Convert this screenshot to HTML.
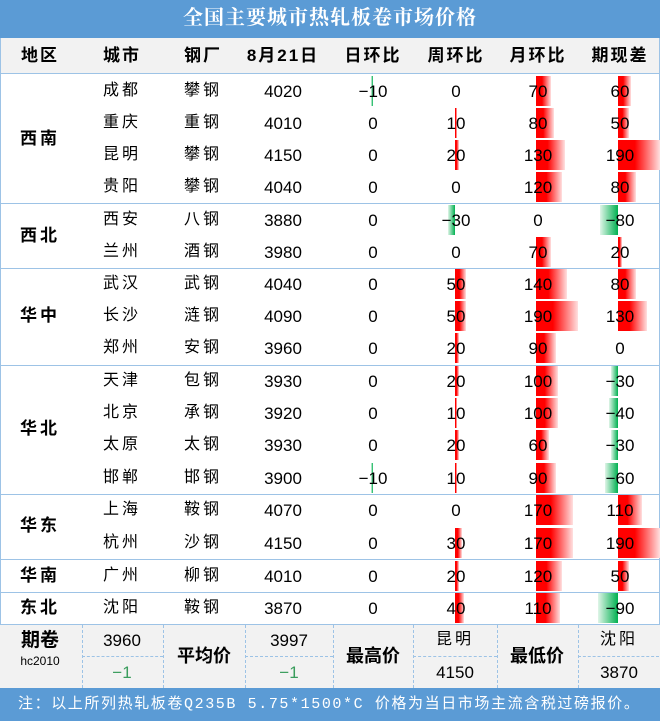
<!DOCTYPE html>
<html><head><meta charset="utf-8"><style>
body{margin:0;width:660px;height:721px;background:#fff;position:relative;overflow:hidden;font-family:"Liberation Sans","Noto Sans CJK SC",sans-serif;}
div{position:absolute;box-sizing:border-box}
.t{text-align:center;white-space:nowrap;line-height:1}
</style></head><body>
<div style="left:0;top:0;width:660px;height:38px;background:#5b9bd5"></div>
<div class="t" style="left:0;top:8px;width:660px;color:#fff;font-size:20px;font-weight:bold;letter-spacing:1px;font-family:'Liberation Serif','Noto Serif CJK SC',serif">全国主要城市热轧板卷市场价格</div>
<div style="left:0;top:38px;width:660px;height:36px;background:#f2f2f2;border-bottom:1px solid #9dc3e6"></div>
<div style="left:0;top:38px;width:1px;height:650px;background:#9dc3e6"></div>
<div style="left:659px;top:38px;width:1px;height:650px;background:#9dc3e6"></div>
<div style="left:0;top:624px;width:660px;height:64px;background:#f2f2f2;border-top:1px solid #9dc3e6"></div>
<div style="left:0;top:688px;width:660px;height:33px;background:#5b9bd5"></div>
<div class="t" style="left:18px;top:697px;color:#fff;font-size:15px;letter-spacing:1.6px;text-align:left;font-family:'Liberation Mono','Noto Sans CJK SC',monospace">注：以上所列热轧板卷Q235B 5.75*1500*C 价格为当日市场主流含税过磅报价。</div>
<div id="root"></div>
<script>
var R=document.getElementById('root'),h='';
function tx(x,y,s,st){h+='<div class="t" style="left:'+(x-60)+'px;top:'+(y-9)+'px;width:120px;font-size:16px;'+(st||'')+'">'+s+'</div>';}
var hdr=['地区','城市','钢厂','8月21日','日环比','周环比','月环比','期现差'],cx=[40,122,203,283,373,456,538,620];
hdr.forEach(function(s,i){tx(cx[i],56,s,'font-weight:bold;font-size:17px;letter-spacing:2px');});
var rows=[['成都','攀钢',4020,-10,0,70,60],['重庆','重钢',4010,0,10,80,50],['昆明','攀钢',4150,0,20,130,190],['贵阳','攀钢',4040,0,0,120,80],
['西安','八钢',3880,0,-30,0,-80],['兰州','酒钢',3980,0,0,70,20],
['武汉','武钢',4040,0,50,140,80],['长沙','涟钢',4090,0,50,190,130],['郑州','安钢',3960,0,20,90,0],
['天津','包钢',3930,0,20,100,-30],['北京','承钢',3920,0,10,100,-40],['太原','太钢',3930,0,20,60,-30],['邯郸','邯钢',3900,-10,10,90,-60],
['上海','鞍钢',4070,0,0,170,110],['杭州','沙钢',4150,0,30,170,190],['广州','柳钢',4010,0,20,120,50],['沈阳','鞍钢',3870,0,40,110,-90]];
var ys=[91,123,155,187,220,252,284,316,348,381,413,445,478,510,543,576,608];
var ax=[373,455,536,618];
rows.forEach(function(r,i){var y=ys[i];
 for(var k=0;k<4;k++){var v=r[3+k];if(v){var w=Math.max(2,Math.abs(v)*0.22),x0=v>0?ax[k]:ax[k]-w;
  var g=v>0?'linear-gradient(90deg,#ff0000,#ff0000 40%,#ffe0e0)':'linear-gradient(90deg,#e0f5e8,#00b050)';
  h+='<div style="left:'+x0+'px;top:'+(y-15)+'px;width:'+w+'px;height:30px;background:'+g+'"></div>';}}
 tx(cx[1],y+1,r[0],'letter-spacing:3px');tx(cx[2],y+1,r[1],'letter-spacing:3px');tx(cx[3],y+1,r[2],'font-size:17px');
 for(var k=0;k<4;k++){var v=r[3+k];tx(cx[4+k],y+1,v<0?'−'+(-v):v,'font-size:17px');}
});
[['西南',139],['西北',236],['华中',316],['华北',429],['华东',526],['华南',576],['东北',608]].forEach(function(a){tx(40,a[1],a[0],'font-weight:bold;font-size:17px;letter-spacing:3px');});
[203,268,365,494,559,592].forEach(function(y){h+='<div style="left:0;top:'+y+'px;width:660px;height:1px;background:#9dc3e6"></div>';});
[82,163,245,333,413,497,578].forEach(function(x){h+='<div style="left:'+x+'px;top:625px;height:63px;border-left:1px dashed #9dc3e6"></div>';});
[[82,163],[245,333],[413,497],[578,659]].forEach(function(a){h+='<div style="left:'+a[0]+'px;top:656px;width:'+(a[1]-a[0])+'px;border-top:1px dashed #9dc3e6"></div>';});
tx(40,640,'期卷','font-weight:bold;font-size:19px');tx(40,664,'hc2010','font-size:12px');
tx(122,641,'3960','font-size:17px');tx(122,673,'−1','color:#3a9d5d;font-size:17px');
tx(204,656,'平均价','font-weight:bold;font-size:18px');
tx(289,641,'3997','font-size:17px');tx(289,673,'−1','color:#3a9d5d;font-size:17px');
tx(373,656,'最高价','font-weight:bold;font-size:18px');
tx(455,641,'昆明','letter-spacing:3px');tx(455,673,'4150','font-size:17px');
tx(537,656,'最低价','font-weight:bold;font-size:18px');
tx(619,641,'沈阳','letter-spacing:3px');tx(619,673,'3870','font-size:17px');
R.innerHTML=h;
</script>
</body></html>
